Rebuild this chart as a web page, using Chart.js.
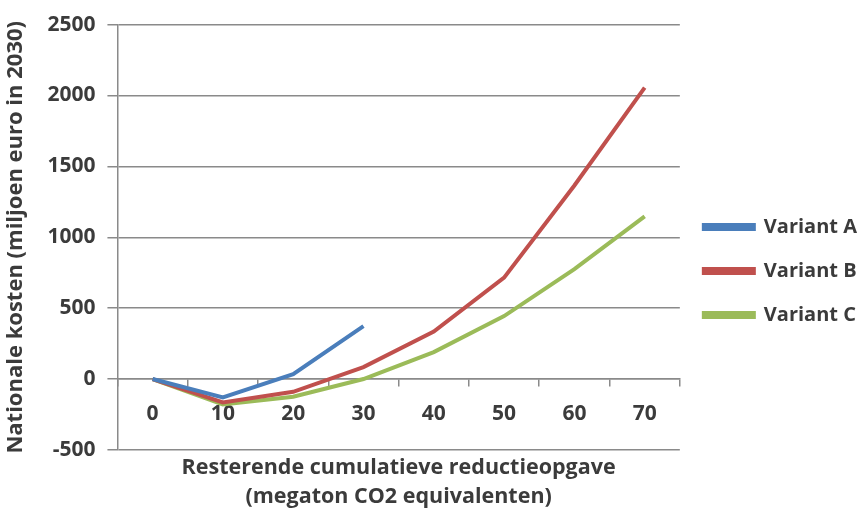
<!DOCTYPE html>
<html>
<head>
<meta charset="utf-8">
<script src="https://cdn.jsdelivr.net/npm/chart.js@4/dist/chart.umd.min.js"></script>
<style>
  html, body { margin: 0; padding: 0; background: #fff; }
  #wrap { width: 868px; height: 514px; }
</style>
</head>
<body>
<div id="wrap"><canvas id="chart"></canvas></div>
<script>
/* ---------- DATA ---------- */
const categories = ["0", "10", "20", "30", "40", "50", "60", "70"];
const variantA = [0, -130, 35, 373, null, null, null, null];
const variantB = [0, -165, -90, 84, 335, 715, 1365, 2056];
const variantC = [0, -180, -125, 0, 190, 444, 775, 1148];
const seriesNames = ["Variant A", "Variant B", "Variant C"];
const yTicks = [-500, 0, 500, 1000, 1500, 2000, 2500];

const TEXT = "#3b3b3b";
const GRID = "#8a8a8a";
const COLORS = ["#4a7ebb", "#c0504d", "#9bbb59"];
const FONT = "'Open Sans'";

/* ---------- CHART ---------- */
const ctx = document.getElementById("chart").getContext("2d");

new Chart(ctx, {
  type: "line",
  data: {
    labels: categories,
    datasets: [variantA, variantB, variantC].map((d, i) => ({
      label: seriesNames[i],
      data: d,
      borderColor: COLORS[i],
      backgroundColor: COLORS[i],
      borderWidth: 4,
      pointRadius: 0,
      tension: 0,
      spanGaps: false
    }))
  },
  options: {
    responsive: true,
    maintainAspectRatio: false,
    animation: false,
    layout: { padding: { top: 19, left: 3, right: 1, bottom: -9 } },
    plugins: {
      legend: {
        position: "right",
        labels: {
          boxWidth: 50,
          boxHeight: 4,
          padding: 24,
          color: TEXT,
          font: { family: FONT, size: 20, weight: "700" }
        }
      },
      title: {
        display: true,
        position: "bottom",
        fullSize: false,
        text: ["Resterende cumulatieve reductieopgave", "(megaton CO2 equivalenten)"],
        color: TEXT,
        font: { family: FONT, size: 21.5, weight: "700", lineHeight: 1.35 },
        padding: { top: 3, bottom: 12 }
      },
      tooltip: { enabled: false }
    },
    scales: {
      x: {
        type: "category",
        position: { y: 0 },
        offset: true,
        grid: {
          offset: true,
          drawOnChartArea: false,
          drawTicks: true,
          tickLength: 7,
          color: GRID,
          lineWidth: 1.5
        },
        border: { color: GRID, width: 1.5 },
        ticks: {
          color: TEXT,
          padding: 15,
          font: { family: FONT, size: 21, weight: "700" }
        }
      },
      y: {
        min: -500,
        max: 2500,
        afterBuildTicks: (scale) => {
          scale.ticks = yTicks.map(v => ({ value: v }));
        },
        grid: {
          color: GRID,
          lineWidth: 1.5,
          tickLength: 10
        },
        border: { color: GRID, width: 1.5 },
        ticks: {
          color: TEXT,
          padding: 12,
          callback: (v) => String(v),
          font: { family: FONT, size: 21, weight: "700" }
        },
        title: {
          display: true,
          text: "Nationale kosten (miljoen euro in 2030)",
          color: TEXT,
          padding: { top: 0, bottom: 6 },
          font: { family: FONT, size: 22, weight: "700" }
        }
      }
    }
  }
});
</script>
</body>
</html>
